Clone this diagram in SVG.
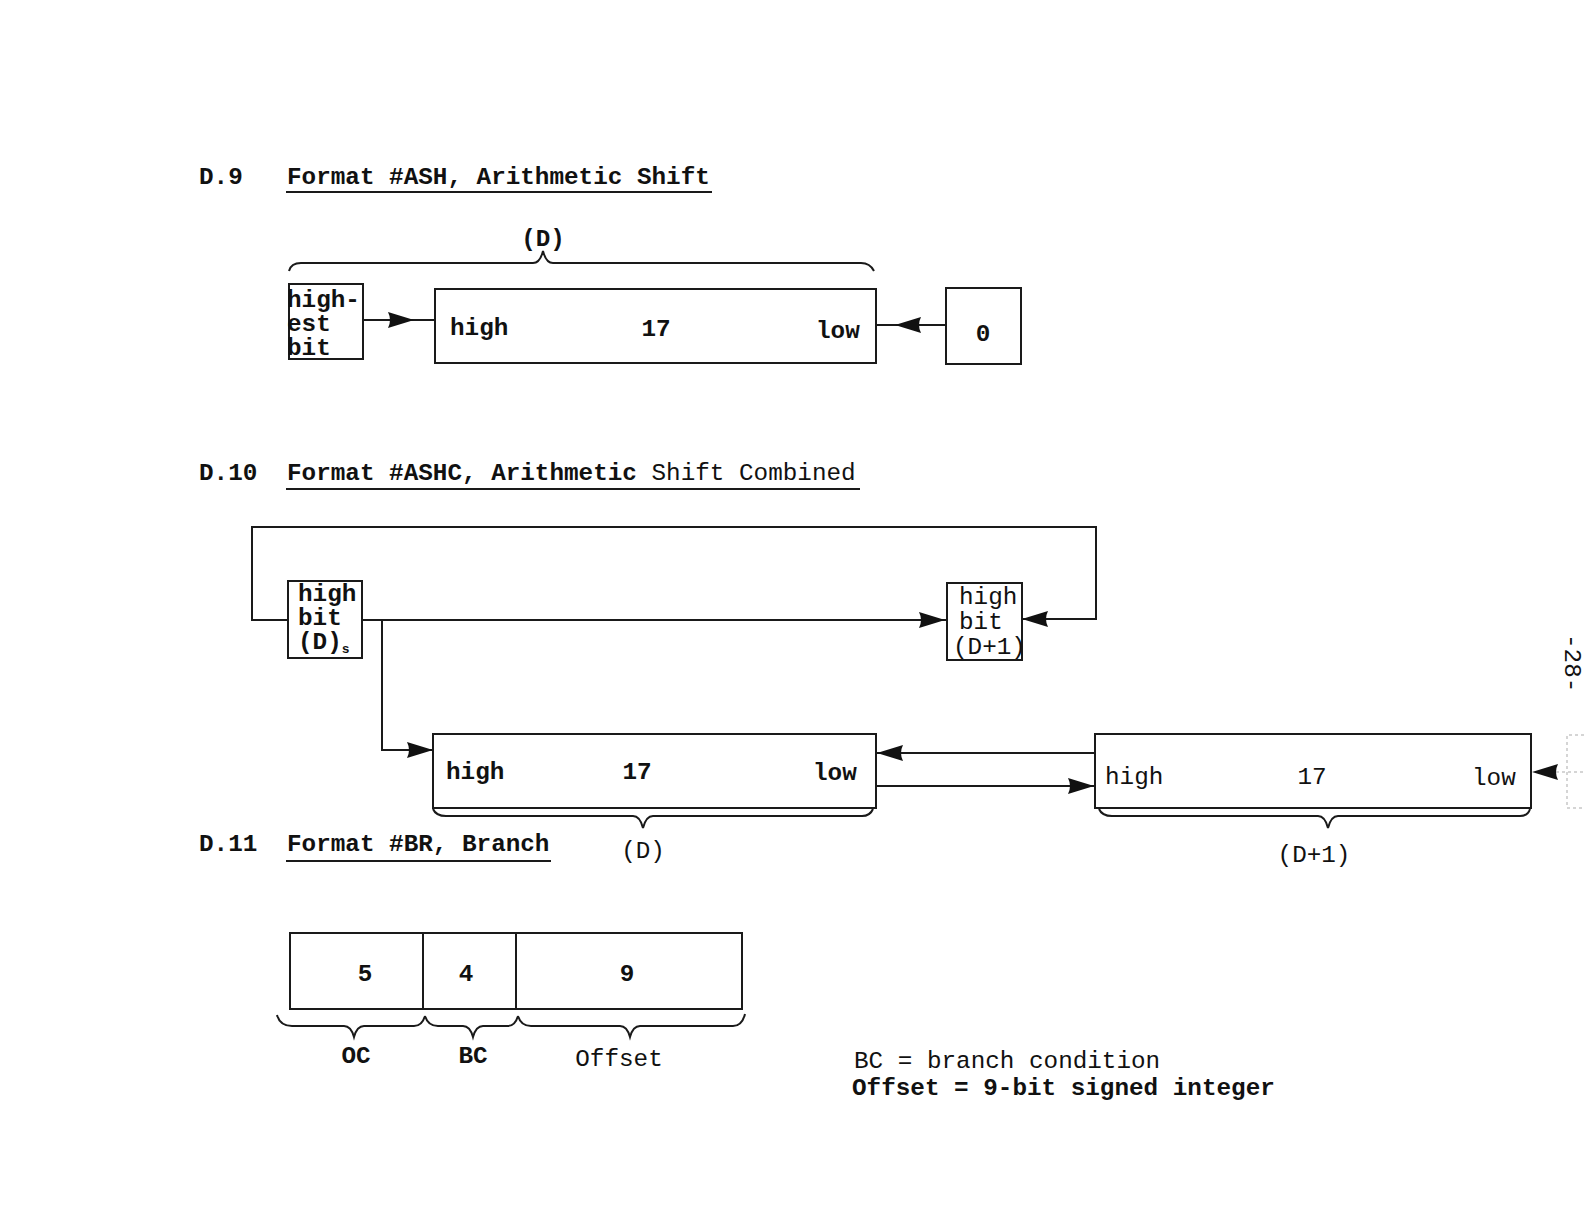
<svg xmlns="http://www.w3.org/2000/svg" xmlns:xlink="http://www.w3.org/1999/xlink" width="1584" height="1224" viewBox="0 0 1584 1224">
<style>
text{font-family:"Liberation Mono","DejaVu Sans Mono",monospace;font-size:24.3px;fill:#111}
.b{font-weight:bold}
.n{font-weight:normal}
.m{text-anchor:middle}
.box{fill:none;stroke:#1a1a1a;stroke-width:2}
.ln{fill:none;stroke:#1a1a1a;stroke-width:2}
.ul{fill:none;stroke:#1a1a1a;stroke-width:2.2}
.br{fill:none;stroke:#1a1a1a;stroke-width:2}
.faint{fill:none;stroke:#c8c8c8;stroke-width:1.5;stroke-dasharray:3 3}
</style>
<defs>
<path id="ah" d="M0,0 L-26,-8 Q-22,0 -26,8 Z" fill="#111"/>
</defs>
<rect width="1584" height="1224" fill="#fff"/>

<!-- D.9 -->
<g id="d9-heading">
<text class="b" x="199" y="184">D.9</text>
<text class="b" x="287" y="184">Format #ASH, Arithmetic Shift</text>
<path class="ul" d="M286,192 L712,192"/>
</g>
<g id="d9-brace">
<path class="br" d="M289,271 Q291,263 301,263 L533,263 Q540,263 543,251 Q546,263 553,263 L861,263 Q870,263 874,271"/>
<text class="b m" x="543" y="246">(D)</text>
</g>
<g id="d9-highest-bit">
<rect class="box" x="289" y="284" width="74" height="75"/>
<text class="b" x="287" y="307">high-</text>
<text class="b" x="287" y="331">est</text>
<text class="b" x="287" y="355">bit</text>
</g>
<g id="d9-register">
<rect class="box" x="435" y="289" width="441" height="74"/>
<text class="b" x="450" y="335">high</text>
<text class="b m" x="656" y="336">17</text>
<text class="b" x="816" y="338">low</text>
</g>
<g id="d9-zero">
<rect class="box" x="946" y="288" width="75" height="76"/>
<text class="b m" x="983" y="341">0</text>
</g>

<!-- D.10 -->
<g id="d10-heading">
<text class="b" x="199" y="480">D.10</text>
<text class="b" x="287" y="480">Format #ASHC, Arithmetic <tspan class="n">Shift Combined</tspan></text>
<path class="ul" d="M286,489 L860,489"/>
</g>
<g id="d10-highbit-d">
<rect class="box" x="288" y="581" width="74" height="77"/>
<text class="b" x="298" y="601">high</text>
<text class="b" x="298" y="625">bit</text>
<text class="b" x="298" y="649">(D)<tspan font-size="13" dy="4">s</tspan></text>
</g>
<g id="d10-highbit-d1">
<rect class="box" x="947" y="583" width="75" height="77"/>
<text class="n" x="959" y="604">high</text>
<text class="n" x="959" y="629">bit</text>
<text class="n" x="953" y="654">(D+1)</text>
</g>
<g id="d10-register-d">
<rect class="box" x="433" y="734" width="443" height="74"/>
<text class="b" x="446" y="779">high</text>
<text class="b m" x="637" y="779">17</text>
<text class="b" x="813" y="780">low</text>
<path class="br" d="M433,809 Q436,816 446,816 L633,816 Q640,816 643,828 Q646,816 653,816 L862,816 Q870,816 873,809"/>
<text class="n m" x="643" y="858">(D)</text>
</g>
<g id="d10-register-d1">
<rect class="box" x="1095" y="734" width="436" height="74"/>
<text class="n" x="1105" y="784">high</text>
<text class="n m" x="1312" y="784">17</text>
<text class="n" x="1472" y="785">low</text>
<path class="br" d="M1099,809 Q1102,816 1112,816 L1318,816 Q1325,816 1328,828 Q1331,816 1338,816 L1520,816 Q1528,816 1530,809"/>
<text class="n m" x="1314" y="862">(D+1)</text>
</g>
<g id="page-number">
<text class="n" transform="translate(1565,634) rotate(90)" x="0" y="0">-28-</text>
<path class="faint" d="M1584,735 L1567,735 L1567,808 L1584,808"/>
</g>

<!-- D.11 -->
<g id="d11-heading">
<text class="b" x="199" y="851">D.11</text>
<text class="b" x="287" y="851">Format #BR, Branch</text>
<path class="ul" d="M286,861 L551,861"/>
</g>
<g id="d11-oc">
<rect class="box" x="290" y="933" width="133" height="76"/>
<text class="b m" x="365" y="981">5</text>
<path class="br" d="M277,1015 Q280,1026 292,1026 L344,1026 Q351,1026 354,1037 Q357,1026 364,1026 L414,1026 Q422,1026 425,1016"/>
<text class="b m" x="356" y="1063">OC</text>
</g>
<g id="d11-bc">
<rect class="box" x="423" y="933" width="93" height="76"/>
<text class="b m" x="466" y="981">4</text>
<path class="br" d="M425,1016 Q428,1026 438,1026 L463,1026 Q470,1026 473,1037 Q476,1026 483,1026 L508,1026 Q515,1026 518,1016"/>
<text class="b m" x="473" y="1063">BC</text>
</g>
<g id="d11-offset">
<rect class="box" x="516" y="933" width="226" height="76"/>
<text class="b m" x="627" y="981">9</text>
<path class="br" d="M518,1016 Q521,1026 531,1026 L620,1026 Q627,1026 630,1037 Q633,1026 640,1026 L733,1026 Q742,1026 745,1014"/>
<text class="n m" x="619" y="1066">Offset</text>
</g>
<g id="d11-legend">
<text class="n" x="854" y="1068">BC = branch condition</text>
<text class="b" x="852" y="1095">Offset = 9-bit signed integer</text>
</g>

<!-- connectors -->
<g id="connectors">
<path class="ln" d="M363,320 L435,320"/>
<use xlink:href="#ah" transform="translate(414,320)"/>
<path class="ln" d="M946,325 L876,325"/>
<use xlink:href="#ah" transform="translate(895,325) rotate(180)"/>

<path class="ln" d="M288,620 L252,620 L252,527 L1096,527 L1096,619 L1022,619"/>
<use xlink:href="#ah" transform="translate(1022,619) rotate(180)"/>
<path class="ln" d="M362,620 L947,620"/>
<use xlink:href="#ah" transform="translate(945,620)"/>
<path class="ln" d="M382,620 L382,750 L433,750"/>
<use xlink:href="#ah" transform="translate(433,750)"/>
<path class="ln" d="M1095,753 L876,753"/>
<use xlink:href="#ah" transform="translate(877,753) rotate(180)"/>
<path class="ln" d="M876,786 L1095,786"/>
<use xlink:href="#ah" transform="translate(1094,786)"/>
<path class="faint" d="M1556,772 L1584,772"/>
<use xlink:href="#ah" transform="translate(1532,772) rotate(180)"/>
</g>
</svg>
